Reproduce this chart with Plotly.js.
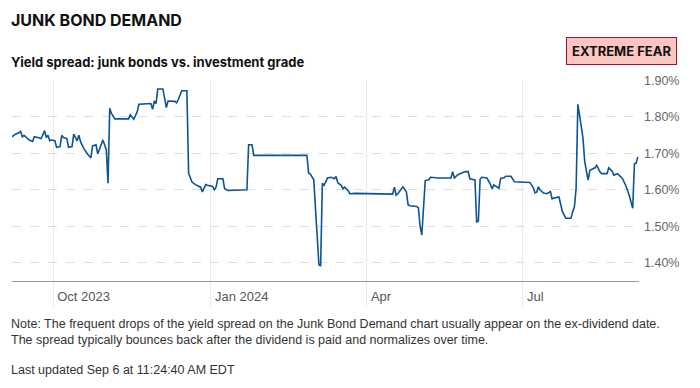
<!DOCTYPE html>
<html>
<head>
<meta charset="utf-8">
<script src="https://cdn.plot.ly/plotly-3.0.1.min.js"></script>
<style>
  html, body { margin: 0; padding: 0; background: #fff; }
  #chart { width: 700px; height: 388px; }
</style>
</head>
<body>
<div id="chart"></div>
<script>
const dates = [
  "2023-09-07","2023-09-09","2023-09-11","2023-09-12","2023-09-13","2023-09-14","2023-09-15","2023-09-17","2023-09-19","2023-09-20",
  "2023-09-22","2023-09-24","2023-09-26","2023-09-27","2023-09-28","2023-09-29","2023-09-30","2023-10-02","2023-10-03","2023-10-05",
  "2023-10-06","2023-10-07","2023-10-09","2023-10-10","2023-10-12","2023-10-13","2023-10-15","2023-10-16","2023-10-17","2023-10-19",
  "2023-10-21","2023-10-23","2023-10-24","2023-10-26","2023-10-27","2023-10-28","2023-10-30","2023-10-31","2023-11-01","2023-11-02",
  "2023-11-03","2023-11-04","2023-11-06","2023-11-14","2023-11-15","2023-11-17","2023-11-19","2023-11-20","2023-11-22","2023-11-24",
  "2023-11-27","2023-11-28","2023-11-29","2023-11-30","2023-12-01","2023-12-04","2023-12-05","2023-12-06","2023-12-07","2023-12-11",
  "2023-12-12","2023-12-13","2023-12-15","2023-12-18","2023-12-19","2023-12-20","2023-12-21","2023-12-23","2023-12-26","2023-12-27",
  "2023-12-29","2023-12-30","2024-01-02","2024-01-03","2024-01-04","2024-01-05","2024-01-08","2024-01-09","2024-01-10","2024-01-11",
  "2024-01-22","2024-01-23","2024-01-25","2024-01-26","2024-02-26","2024-02-27","2024-02-28","2024-03-01","2024-03-04","2024-03-05",
  "2024-03-06","2024-03-07","2024-03-09","2024-03-11","2024-03-13","2024-03-14","2024-03-15","2024-03-17","2024-03-18","2024-03-19",
  "2024-03-21","2024-03-22","2024-03-25","2024-04-16","2024-04-17","2024-04-18","2024-04-19","2024-04-21","2024-04-22","2024-04-24",
  "2024-04-25","2024-04-26","2024-04-30","2024-05-01","2024-05-02","2024-05-03","2024-05-05","2024-05-07","2024-05-08","2024-05-13",
  "2024-05-20","2024-05-21","2024-05-22","2024-05-24","2024-05-26","2024-05-28","2024-05-30","2024-05-31","2024-06-03","2024-06-04",
  "2024-06-05","2024-06-06","2024-06-07","2024-06-10","2024-06-12","2024-06-13","2024-06-14","2024-06-15","2024-06-17","2024-06-18",
  "2024-06-20","2024-06-21","2024-06-24","2024-06-26","2024-07-05","2024-07-07","2024-07-08","2024-07-09","2024-07-10","2024-07-11",
  "2024-07-13","2024-07-15","2024-07-17","2024-07-18","2024-07-19","2024-07-22","2024-07-23","2024-07-24","2024-07-26","2024-07-29",
  "2024-07-30","2024-07-31","2024-08-01","2024-08-02","2024-08-03","2024-08-05","2024-08-06","2024-08-08","2024-08-09","2024-08-11",
  "2024-08-12","2024-08-13","2024-08-15","2024-08-16","2024-08-19","2024-08-20","2024-08-22","2024-08-23","2024-08-25","2024-08-26",
  "2024-08-28","2024-08-30","2024-09-01","2024-09-03","2024-09-04","2024-09-05","2024-09-06"
];
const spread = [
  1.745,1.752,1.756,1.760,1.745,1.749,1.745,1.736,1.732,1.745,
  1.743,1.740,1.762,1.743,1.749,1.734,1.736,1.734,1.716,1.718,
  1.749,1.743,1.740,1.716,1.718,1.752,1.734,1.749,1.731,1.712,
  1.698,1.687,1.720,1.723,1.698,1.712,1.736,1.723,1.709,1.618,
  1.823,1.809,1.794,1.794,1.805,1.793,1.813,1.834,1.834,1.836,
  1.836,1.820,1.843,1.836,1.876,1.876,1.845,1.825,1.843,1.842,
  1.838,1.847,1.871,1.871,1.645,1.630,1.621,1.614,1.607,1.594,
  1.614,1.612,1.609,1.600,1.607,1.630,1.630,1.603,1.601,1.598,
  1.600,1.723,1.723,1.694,1.694,1.645,1.643,1.627,1.394,1.392,
  1.618,1.612,1.632,1.634,1.630,1.636,1.619,1.612,1.603,1.607,
  1.598,1.589,1.590,1.588,1.607,1.585,1.589,1.600,1.608,1.594,
  1.559,1.556,1.554,1.550,1.500,1.476,1.625,1.627,1.634,1.632,
  1.632,1.649,1.632,1.641,1.645,1.649,1.650,1.630,1.627,1.512,
  1.514,1.629,1.634,1.632,1.615,1.602,1.613,1.610,1.604,1.631,
  1.633,1.637,1.637,1.622,1.620,1.606,1.591,1.593,1.608,1.599,
  1.591,1.589,1.595,1.575,1.577,1.580,1.558,1.540,1.522,1.522,
  1.540,1.553,1.604,1.834,1.804,1.741,1.677,1.626,1.653,1.657,
  1.660,1.667,1.648,1.644,1.644,1.660,1.651,1.640,1.644,1.640,
  1.631,1.611,1.584,1.549,1.671,1.673,1.690
];
const xTickVals = ["2023-10-01","2024-01-01","2024-04-01","2024-07-01"];
const xTickText = ["Oct 2023","Jan 2024","Apr","Jul"];
const yTickVals = [1.4,1.5,1.6,1.7,1.8,1.9];
const yTickText = ["1.40%","1.50%","1.60%","1.70%","1.80%","1.90%"];

const title = "JUNK BOND DEMAND";
const subtitle = "Yield spread: junk bonds vs. investment grade";
const badge = "EXTREME FEAR";
const note1 = "Note: The frequent drops of the yield spread on the Junk Bond Demand chart usually appear on the ex-dividend date.";
const note2 = "The spread typically bounces back after the dividend is paid and normalizes over time.";
const updated = "Last updated Sep 6 at 11:24:40 AM EDT";

const trace = {
  x: dates, y: spread, type: "scatter", mode: "lines",
  line: { color: "#0d5492", width: 1.6 },
  hoverinfo: "skip"
};

const textFont = "Liberation Sans, Arial, sans-serif";
const headFont = "Inter, Roboto, sans-serif";

const layout = {
  width: 700, height: 388,
  margin: { l: 12, r: 61, t: 80, b: 107, pad: 0 },
  paper_bgcolor: "#fff", plot_bgcolor: "#fff",
  showlegend: false,
  xaxis: {
    type: "date",
    range: ["2023-09-07", "2024-09-06 16:00"],
    tickmode: "array", tickvals: xTickVals, ticktext: xTickText,
    showgrid: true, gridcolor: "#ebebeb", gridwidth: 1,
    ticks: "outside", ticklen: 25, tickcolor: "#ebebeb", tickwidth: 1,
    ticklabelposition: "outside right",
    ticklabelstandoff: 3,
    ticklabelshift: 3,
    showline: true, linecolor: "#9a9a9a", linewidth: 1,
    zeroline: false,
    tickfont: { family: textFont, size: 13, color: "#555" },
    fixedrange: true
  },
  yaxis: {
    side: "right",
    range: [1.35, 1.9005],
    tickmode: "array", tickvals: yTickVals, ticktext: yTickText,
    showgrid: true, gridcolor: "#dedede", griddash: "dash", gridwidth: 1,
    ticks: "", showline: false, zeroline: false,
    ticklabelstandoff: 4,
    tickfont: { family: textFont, size: 12.5, color: "#666" },
    fixedrange: true
  },
  annotations: [
    { text: "<b>" + title + "</b>", xref: "paper", yref: "paper", x: -0.005, y: 1.2985,
      xanchor: "left", yanchor: "middle", showarrow: false,
      font: { family: headFont, size: 16, color: "#111" } },
    { text: "<b>" + subtitle + "</b>", xref: "paper", yref: "paper", x: -0.005, y: 1.0896,
      xanchor: "left", yanchor: "middle", showarrow: false,
      font: { family: headFont, size: 13, color: "#111" } },
    { text: "<b>" + badge + "</b>", xref: "paper", yref: "paper", x: 1.0606, y: 1.144,
      xanchor: "right", yanchor: "middle", showarrow: false,
      bgcolor: "#fbc6c2", bordercolor: "#a3142c", borderwidth: 1, borderpad: 5,
      font: { family: headFont, size: 13, color: "#111" } },
    { text: note1, xref: "paper", yref: "paper", x: -0.004, y: -0.214,
      xanchor: "left", yanchor: "middle", showarrow: false,
      font: { family: textFont, size: 12.5, color: "#333" } },
    { text: note2, xref: "paper", yref: "paper", x: -0.004, y: -0.2935,
      xanchor: "left", yanchor: "middle", showarrow: false,
      font: { family: textFont, size: 12.5, color: "#333" } },
    { text: updated, xref: "paper", yref: "paper", x: -0.004, y: -0.4428,
      xanchor: "left", yanchor: "middle", showarrow: false,
      font: { family: textFont, size: 12.5, color: "#333" } }
  ]
};

Plotly.newPlot("chart", [trace], layout, { displayModeBar: false, staticPlot: true });
</script>
</body>
</html>
